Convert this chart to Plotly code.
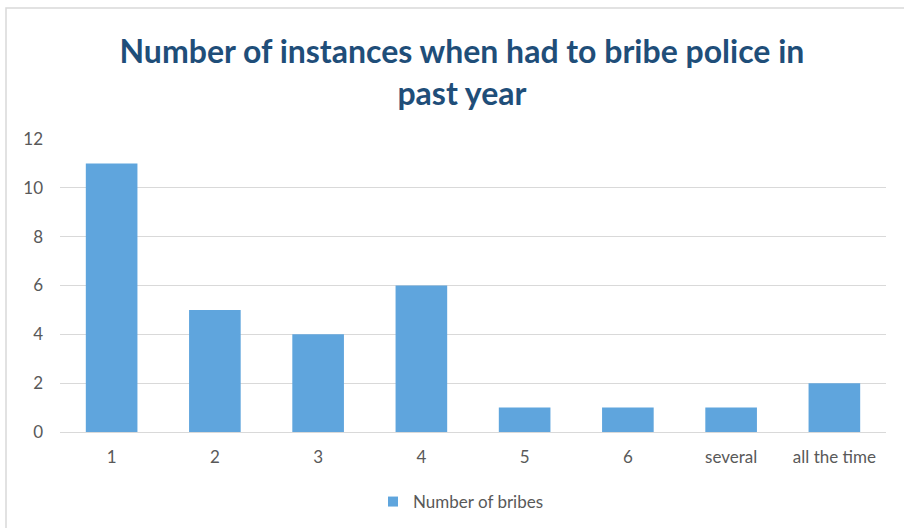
import plotly.graph_objects as go

categories = ["1", "2", "3", "4", "5", "6", "several", "all the time"]
bribes = [11, 5, 4, 6, 1, 1, 1, 2]
y_ticks = [0, 2, 4, 6, 8, 10, 12]

BAR_COLOR = "#5FA5DD"

fig = go.Figure()
fig.add_trace(go.Bar(
    x=categories,
    y=bribes,
    name="Number of bribes",
    marker=dict(color=BAR_COLOR, line=dict(width=0)),
    width=0.5,
    showlegend=False,
))
# legend entry shown as a small square swatch
fig.add_trace(go.Scatter(
    x=[None], y=[None],
    mode="markers",
    name="Number of bribes",
    marker=dict(symbol="square", size=10, color=BAR_COLOR),
    showlegend=True,
))

PLOT_W, PLOT_H = 826, 293

fig.update_layout(
    width=904,
    height=528,
    margin=dict(l=60, r=18, t=139, b=96, autoexpand=False),
    paper_bgcolor="white",
    plot_bgcolor="white",
    title=dict(
        text="Number of instances when had to bribe police in<br>past year",
        x=0.511,
        xanchor="center",
        y=0.88,
        yanchor="middle",
        font=dict(family="Lato", size=32, color="#1F4E79", weight="bold"),
    ),
    font=dict(family="Lato", size=17, color="#595959"),
    xaxis=dict(
        type="category",
        automargin=False,
        showgrid=False,
        showline=True,
        linecolor="#D9D9D9",
        linewidth=1,
        ticks="",
        ticklabelstandoff=10,
        tickfont=dict(size=17, color="#595959"),
    ),
    yaxis=dict(
        range=[0, 12],
        tickvals=y_ticks,
        automargin=False,
        showgrid=True,
        gridcolor="#D9D9D9",
        gridwidth=1,
        zeroline=False,
        showline=False,
        ticks="",
        ticklabelstandoff=16,
        tickfont=dict(size=17, color="#595959"),
    ),
    legend=dict(
        orientation="h",
        x=0.5 - 12 / PLOT_W,
        xanchor="center",
        y=-70 / PLOT_H,
        yanchor="middle",
        font=dict(size=17, color="#595959"),
        itemwidth=30,
    ),
    shapes=[dict(
        type="rect", xref="paper", yref="paper",
        x0=-54 / PLOT_W, x1=1.0 + 40 / PLOT_W,
        y0=-140 / PLOT_H, y1=1 + 131 / PLOT_H,
        line=dict(color="#D9D9D9", width=1.5),
    )],
)

fig.write_html("out.html")
